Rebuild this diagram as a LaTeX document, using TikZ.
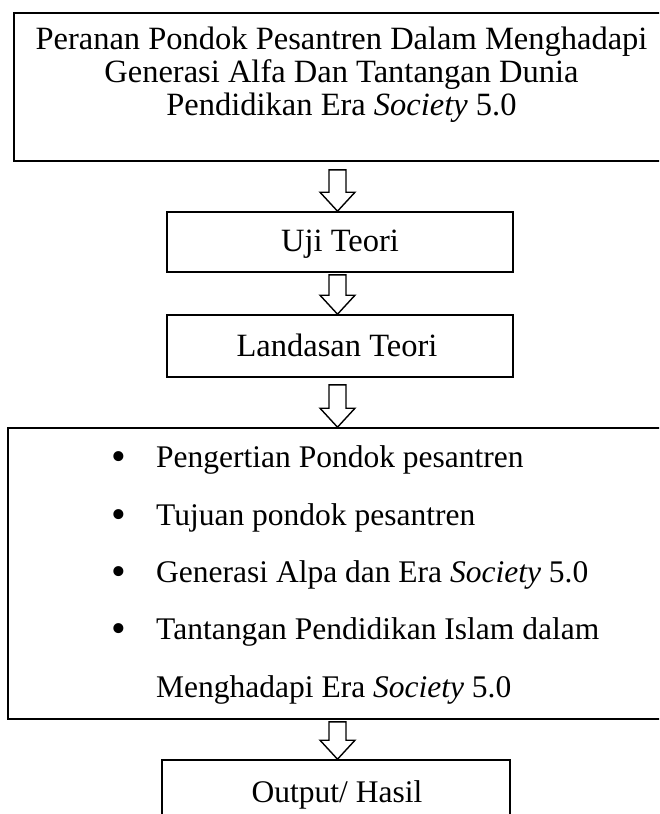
\documentclass[tikz,border=0pt]{standalone}
\usepackage{fontspec}
\setmainfont{Liberation Serif}
\usetikzlibrary{calc}
\begin{document}
\begin{tikzpicture}[x=1pt,y=-1pt,
  box/.style={draw,line width=1.6pt,rectangle,inner sep=0pt},
  arr/.style={draw,line width=1.4pt,line join=miter,fill=white},
  txt/.style={font=\fontsize{32.5}{34}\selectfont,inner sep=0pt,anchor=base},
  itm/.style={font=\fontsize{31.5}{34}\selectfont,inner sep=0pt,anchor=base west},
  blt/.style={font=\fontsize{42}{44}\selectfont,inner sep=0pt,anchor=base},
  ]
\useasboundingbox (0,0) rectangle (659,814);
\clip (0,0) rectangle (659,814);
\coordinate (ax) at (337.5,0);
% boxes
\node[box,minimum width=650pt,minimum height=148pt] (b1) at (339,87) {};
\node[box,minimum width=346pt,minimum height=60pt] (b2) at (340,242) {};
\node[box,minimum width=346pt,minimum height=62pt] (b3) at (340,346) {};
\node[box,minimum width=656pt,minimum height=291pt] (b4) at (336,573.5) {};
\node[box,minimum width=348pt,minimum height=100pt] (b5) at (336,810) {};
% texts
\node[txt] (t1a) at (341.5,49) {Peranan Pondok Pesantren Dalam Menghadapi};
\node[txt] (t1b) at (341.5,82) {Generasi Alfa Dan Tantangan Dunia};
\node[txt] (t1c) at (341.5,115) {Pendidikan Era \textit{Society} 5.0};
\node[txt] (t2) at (340,251) {Uji Teori};
\node[txt] (t3) at (337,356) {Landasan Teori};
\node[blt] (d1) at (119,470) {•};
\node[itm] (i1) at (156,467) {Pengertian Pondok pesantren};
\node[blt] (d2) at (119,528) {•};
\node[itm] (i2) at (156,525) {Tujuan pondok pesantren};
\node[blt] (d3) at (119,585) {•};
\node[itm] (i3) at (156,582) {Generasi Alpa dan Era \textit{Society} 5.0};
\node[blt] (d4) at (119,642) {•};
\node[itm] (i4) at (156,639) {Tantangan Pendidikan Islam dalam};
\node[itm] (i5) at (156,697) {Menghadapi Era \textit{Society} 5.0};
\node[txt,font=\fontsize{31.5}{34}\selectfont] (t5) at (337,802) {Output/ Hasil};
% block arrows
\newcommand\blockarrow[3]{%
  \draw[arr] ($(#1.south -| ax)+(-8.5,#3)$) -- ($(#1.south -| ax)+(8.5,#3)$)
    -- ($(#2.north -| ax)+(8.5,-19)$) -- ($(#2.north -| ax)+(17.5,-19)$)
    -- (#2.north -| ax) -- ($(#2.north -| ax)+(-17.5,-19)$)
    -- ($(#2.north -| ax)+(-8.5,-19)$) -- cycle;}
\blockarrow{b1}{b2}{8}
\blockarrow{b2}{b3}{2}
\blockarrow{b3}{b4}{7}
\blockarrow{b4}{b5}{2}
\end{tikzpicture}
\end{document}
